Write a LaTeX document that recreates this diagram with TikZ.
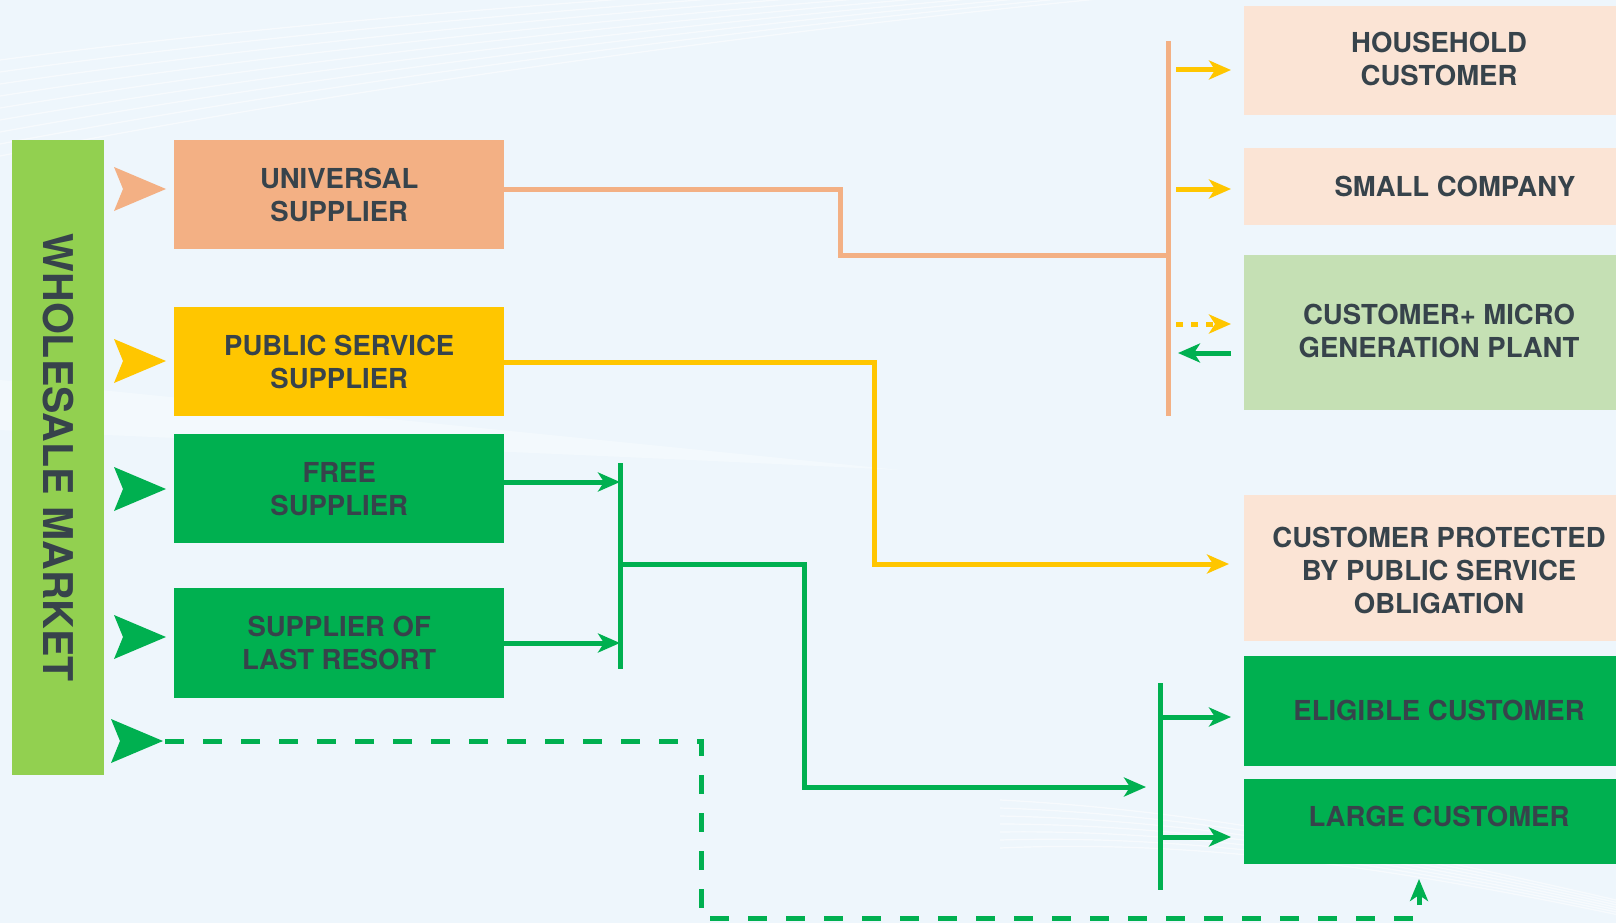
\documentclass[tikz,border=0pt]{standalone}
\usepackage{fontspec}
\setmainfont{TeX Gyre Heros}
\usetikzlibrary{arrows.meta,calc}
\definecolor{bg}{HTML}{EEF6FC}
\definecolor{txt}{HTML}{37434B}
\definecolor{orng}{HTML}{F3B084}
\definecolor{yel}{HTML}{FFC600}
\definecolor{grn}{HTML}{00B050}
\definecolor{lgrn}{HTML}{92D050}
\definecolor{peach}{HTML}{FBE4D5}
\definecolor{mgrn}{HTML}{C5E0B4}
\begin{document}
\begin{tikzpicture}[x=1pt,y=-1pt,
  box/.style={rectangle, inner sep=0pt, anchor=north west, align=center, text=txt,
    font=\fontsize{27.5}{33}\selectfont\bfseries},
  lbl/.style={inner sep=0pt, align=center, text=txt, font=\fontsize{27.5}{33}\selectfont\bfseries},
  tipA/.style={-{Stealth[length=22pt,width=19pt,inset=6pt]}},
  oline/.style={orng, line width=5pt},
  yline/.style={yel, line width=5pt},
  gline/.style={grn, line width=5pt},
  chev/.pic={\fill (-52,-22) -- (0,0) -- (-52,22) -- (-43,0) -- cycle;}
]
\useasboundingbox (0,0) rectangle (1616,923);
\fill[bg] (0,0) rectangle (1616,923);
% faint background swooshes
\begin{scope}[white, opacity=0.55, line width=1.2pt]
  \foreach \d in {0,12,...,96} {
    \draw (0,{60+\d}) .. controls (300,{20+\d*0.8}) and (700,{-10+\d*0.5}) .. (1100,{-30+\d*0.3});
  }
  \foreach \d in {0,8,...,48} {
    \draw (1000,{800+\d}) .. controls (1200,{810+\d*0.6}) and (1400,{850+\d*0.4}) .. (1616,{900+\d*0.3});
  }
\end{scope}
\fill[white, opacity=0.35] (0,380) .. controls (200,400) and (500,430) .. (900,470)
   .. controls (500,450) and (200,440) .. (0,430) -- cycle;

% wholesale market bar
\node[box, fill=lgrn, minimum width=92pt, minimum height=635pt] (wm) at (12,140) {};
\node[text=txt, rotate=-90, inner sep=0pt, font=\fontsize{41}{41}\selectfont\bfseries] (wmT) at (wm.center) {WHOLESALE MARKET};

% supplier boxes
\node[box, fill=orng, minimum width=330pt, minimum height=109pt] (univ) at (174,140) {UNIVERSAL\\SUPPLIER};
\node[box, fill=yel, minimum width=330pt, minimum height=109pt] (pub) at (174,307) {PUBLIC SERVICE\\SUPPLIER};
\node[box, fill=grn, minimum width=330pt, minimum height=109pt] (free) at (174,434) {FREE\\SUPPLIER};
\node[box, fill=grn, minimum width=330pt, minimum height=110pt] (last) at (174,588) {SUPPLIER OF\\LAST RESORT};

% customer boxes
\node[box, fill=peach, minimum width=400pt, minimum height=109pt] (house) at (1244,6) {};
\node[box, fill=peach, minimum width=400pt, minimum height=77pt] (small) at (1244,148) {};
\node[box, fill=mgrn, minimum width=400pt, minimum height=155pt] (micro) at (1244,255) {};
\node[box, fill=peach, minimum width=400pt, minimum height=146pt] (prot) at (1244,495) {};
\node[box, fill=grn, minimum width=400pt, minimum height=110pt] (elig) at (1244,656) {};
\node[box, fill=grn, minimum width=400pt, minimum height=85pt] (large) at (1244,779) {};

\node[lbl] (houseT) at (1439,59) {HOUSEHOLD\\CUSTOMER};
\node[lbl] (smallT) at (1455,186) {SMALL COMPANY};
\node[lbl] (microT) at (1439,331) {CUSTOMER+ MICRO\\GENERATION PLANT};
\node[lbl] (protT) at (1439,570) {CUSTOMER PROTECTED\\BY PUBLIC SERVICE\\OBLIGATION};
\node[lbl] (eligT) at (1439,710) {ELIGIBLE CUSTOMER};
\node[lbl] (largeT) at (1439,816) {LARGE CUSTOMER};

% chevrons from the wholesale market
\pic[fill=orng] at (166,189) {chev};
\pic[fill=yel] at (166,361) {chev};
\pic[fill=grn] at (166,489) {chev};
\pic[fill=grn] at (166,637) {chev};
\pic[fill=grn] at (163,741) {chev};
\coordinate (dstart) at (165,741);

% junction bars
\coordinate (obT) at (1168,41);
\coordinate (obB) at (1168,416);
\coordinate (g1T) at (620,463);
\coordinate (g1B) at (620,669);
\coordinate (g2T) at (1160,683);
\coordinate (g2B) at (1160,890);
\draw[orng, line width=5pt] (obT) -- (obB);
\draw[grn, line width=5pt] (g1T) -- (g1B);
\draw[grn, line width=5pt] (g2T) -- (g2B);

% universal supplier route
\draw[oline] (univ.east |- 0,189) -| (840,255) -- (obB |- 0,255);
\draw[yline, tipA, shorten >=13pt] (1176,70) -- (house.west |- 0,70);
\draw[yline, tipA, shorten >=13pt] (1176,189) -- (small.west |- 0,189);
\draw[yline, tipA, shorten >=13pt, dash pattern=on 7pt off 8pt] (1176,324) -- (micro.west |- 0,324);
\draw[gline, tipA] (micro.west |- 1231,353) ++(-13,0) -- (1178,353);

% public service route
\draw[yline, tipA, shorten >=15pt] (pub.east |- 0,362) -| (874,564) -- (prot.west |- 0,564);

% free & last resort route
\draw[gline, tipA] (free.east |- 0,482) -- (g1T |- 0,482);
\draw[gline, tipA] (last.east |- 0,643) -- (g1T |- 0,643);
\draw[gline, tipA] (g1T |- 0,564) -| (804,787) -- (1146,787);
\draw[gline, tipA, shorten >=13pt] (g2T |- 0,717) -- (elig.west |- 0,717);
\draw[gline, tipA, shorten >=13pt] (g2T |- 0,837) -- (large.west |- 0,837);

% direct wholesale access
\draw[grn, line width=5pt, dash pattern=on 19pt off 19pt, -{Stealth[length=22pt,width=18pt,inset=6pt]}]
  (dstart) -| (701,918) -| (1419,879);
\end{tikzpicture}
\end{document}
